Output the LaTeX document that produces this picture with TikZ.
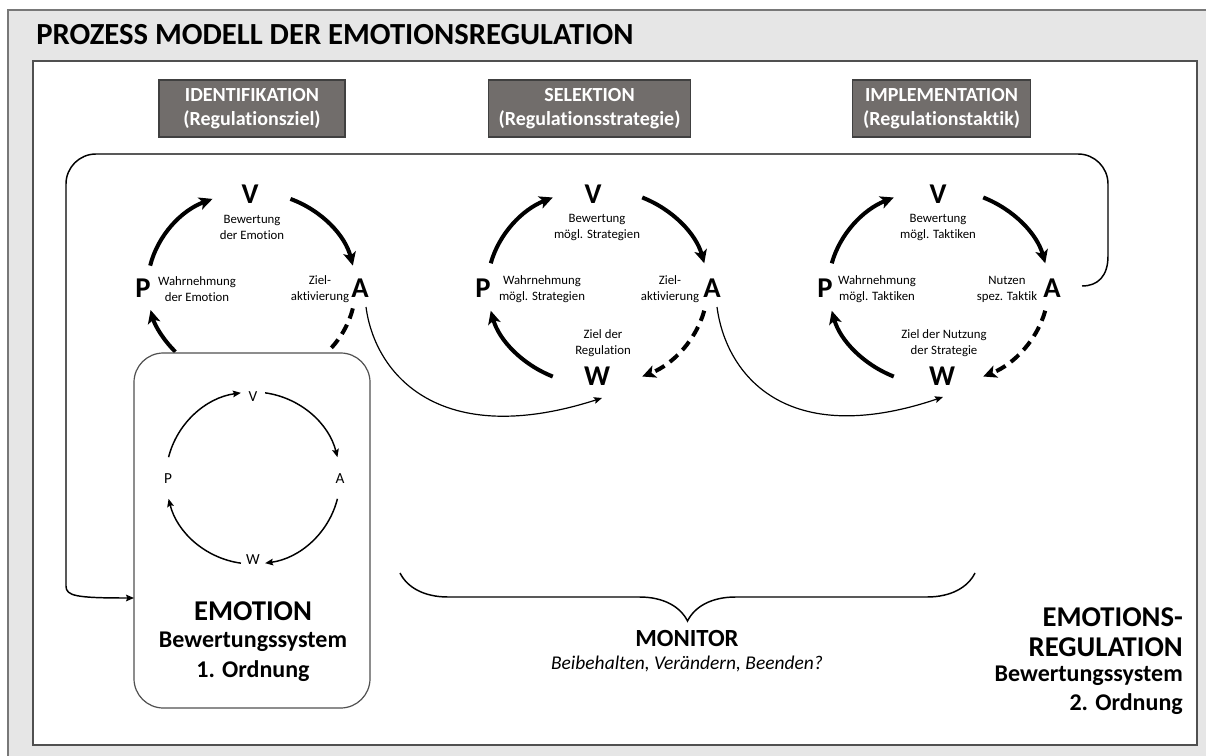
\documentclass[tikz,border=0pt]{standalone}
\usepackage{fontspec}
\setmainfont{Carlito}[Ligatures={NoCommon}]
\usetikzlibrary{arrows.meta,calc,decorations.pathreplacing}
\definecolor{bggray}{RGB}{230,230,230}
\definecolor{hdrfill}{RGB}{113,109,107}
\definecolor{hdrline}{RGB}{64,64,64}
\definecolor{framegray}{RGB}{120,120,120}
\definecolor{innerframe}{RGB}{80,80,80}
\begin{document}
\begin{tikzpicture}[x=0.75pt,y=0.75pt,
  hdr/.style={fill=hdrfill, draw=hdrline, line width=0.8pt, text=white,
    font=\bfseries\fontsize{15}{18.5}\selectfont, align=center,
    minimum height=42.75pt, inner xsep=4pt},
  big/.style={font=\bfseries\fontsize{21.5}{21.5}\selectfont, inner sep=0pt},
  small/.style={font=\fontsize{11.5}{12}\selectfont, inner sep=0pt},
  lbl/.style={font=\fontsize{9.6}{12}\selectfont, align=center, inner sep=0pt},
  cyc/.style={line width=3pt, -{Stealth[length=10pt,width=9.5pt,inset=2.5pt]}},
  cycdash/.style={cyc, dash pattern=on 8pt off 5pt},
  cycplain/.style={line width=3pt},
  thin/.style={line width=0.9pt, -{Stealth[length=6pt,width=5pt,inset=1pt]}},
  loopline/.style={line width=1.1pt, -{Stealth[length=6pt,width=5pt,inset=1pt]}},
  bigtxt/.style={font=\bfseries\fontsize{21.5}{21.5}\selectfont, inner sep=0pt},
  midtxt/.style={font=\bfseries\fontsize{18}{18}\selectfont, inner sep=0pt}
]
\useasboundingbox (0,0) rectangle (1206,-756);
\fill[white] (0,0) rectangle (1206,-756);
% frames
\draw[fill=bggray, draw=framegray, line width=1pt] (8,-10) rectangle (1225,-775);
\draw[fill=white, draw=innerframe, line width=1.1pt] (33,-61) rectangle (1197,-745);
% title
\node[anchor=west, inner sep=0pt, font=\bfseries\fontsize{23}{23}\selectfont] (title) at (36,-35) {PROZESS MODELL DER EMOTIONSREGULATION};
% headers
\node[hdr, minimum width=139.5pt] (hid) at (252,-108.5) {IDENTIFIKATION\\(Regulationsziel)};
\node[hdr, minimum width=152pt] (hsel) at (589.5,-108.5) {SELEKTION\\(Regulationsstrategie)};
\node[hdr, minimum width=133pt] (himp) at (941.5,-108.5) {IMPLEMENTATION\\(Regulationstaktik)};

% ---------- left cycle ----------
\coordinate (LC) at (251.5,-287);
\node[big] (LV) at (250,-194) {V};
\node[big] (LP) at (143,-288) {P};
\node[big] (LA) at (360,-288) {A};
\node[lbl] (LVl) at (252,-227) {Bewertung\\der Emotion};
\node[lbl] (LPl) at (197,-289) {Wahrnehmung\\der Emotion};
\node[lbl] (LAl) at (320,-289) {Ziel-\\aktivierung};
\coordinate (l1) at ($(LC)+(167:104 and 95)$);
\coordinate (l2) at ($(LC)+(68:104 and 95)$);
\coordinate (l3) at ($(LC)+(-13:104 and 95)$);
\coordinate (l4) at ($(LC)+(-137:104 and 95)$);
\draw[cyc] (l1) arc[start angle=167,end angle=112,x radius=104,y radius=95];
\draw[cyc] (l2) arc[start angle=68,end angle=13,x radius=104,y radius=95];
\draw[cycplain, dash pattern=on 8pt off 5pt] (l3) arc[start angle=-13,end angle=-43,x radius=104,y radius=95];
\draw[cyc] (l4) arc[start angle=-137,end angle=-166,x radius=104,y radius=95];

% ---------- emotion box ----------
\draw[draw=innerframe, line width=0.9pt, fill=white, rounded corners=22pt] (134,-353) rectangle (370,-708);
\coordinate (emo-w) at (134,-598);
\coordinate (EC) at (253,-478);
\node[small] (eV) at (253,-397) {V};
\node[small] (eP) at (168,-479) {P};
\node[small] (eA) at (340,-479) {A};
\node[small] (eW) at (253,-560) {W};
\coordinate (e1) at ($(EC)+(166:87 and 86)$);
\coordinate (e2) at ($(EC)+(82:87 and 86)$);
\coordinate (e3) at ($(EC)+(-14:87 and 86)$);
\coordinate (e4) at ($(EC)+(-98:87 and 86)$);
\draw[thin, line width=1.1pt] (e1) arc[start angle=166,end angle=98,x radius=87,y radius=86];
\draw[thin, line width=1.1pt] (e2) arc[start angle=82,end angle=14,x radius=87,y radius=86];
\draw[thin, line width=1.1pt] (e3) arc[start angle=-14,end angle=-82,x radius=87,y radius=86];
\draw[thin, line width=1.1pt] (e4) arc[start angle=-98,end angle=-166,x radius=87,y radius=86];
\node[bigtxt] (emo1) at (253,-611) {EMOTION};
\node[midtxt] (emo2) at (253,-642) {Bewertungssystem};
\node[midtxt] (emo3) at (253,-671) {1. Ordnung};

% ---------- middle cycle ----------
\coordinate (MC) at (597.5,-287);
\node[big] (MV) at (593,-194) {V};
\node[big] (MP) at (483,-288) {P};
\node[big] (MA) at (712,-288) {A};
\node[big] (MW) at (597,-376) {W};
\node[lbl] (MVl) at (597,-227) {Bewertung\\mögl. Strategien};
\node[lbl] (MPl) at (542,-289) {Wahrnehmung\\mögl. Strategien};
\node[lbl] (MAl) at (670,-289) {Ziel-\\aktivierung};
\node[lbl] (MWl) at (603,-343) {Ziel der\\Regulation};
\coordinate (m1) at ($(MC)+(166:110 and 98)$);
\coordinate (m2) at ($(MC)+(66:110 and 98)$);
\coordinate (m3) at ($(MC)+(-14:110 and 98)$);
\coordinate (m4) at ($(MC)+(-114:110 and 98)$);
\draw[cyc] (m1) arc[start angle=166,end angle=114,x radius=110,y radius=98];
\draw[cyc] (m2) arc[start angle=66,end angle=14,x radius=110,y radius=98];
\draw[cycdash] (m3) arc[start angle=-14,end angle=-66,x radius=110,y radius=98];
\draw[cyc] (m4) arc[start angle=-114,end angle=-166,x radius=110,y radius=98];

% ---------- right cycle ----------
\coordinate (RC) at (938.5,-287);
\node[big] (RV) at (938,-194) {V};
\node[big] (RP) at (825,-288) {P};
\node[big] (RA) at (1052,-288) {A};
\node[big] (RW) at (942,-376) {W};
\node[lbl] (RVl) at (938,-227) {Bewertung\\mögl. Taktiken};
\node[lbl] (RPl) at (877,-289) {Wahrnehmung\\mögl. Taktiken};
\node[lbl] (RAl) at (1007,-289) {Nutzen\\spez. Taktik};
\node[lbl] (RWl) at (944,-343) {Ziel der Nutzung\\der Strategie};
\coordinate (r1) at ($(RC)+(166:110 and 98)$);
\coordinate (r2) at ($(RC)+(66:110 and 98)$);
\coordinate (r3) at ($(RC)+(-14:110 and 98)$);
\coordinate (r4) at ($(RC)+(-114:110 and 98)$);
\draw[cyc] (r1) arc[start angle=166,end angle=114,x radius=110,y radius=98];
\draw[cyc] (r2) arc[start angle=66,end angle=14,x radius=110,y radius=98];
\draw[cycdash] (r3) arc[start angle=-14,end angle=-66,x radius=110,y radius=98];
\draw[cyc] (r4) arc[start angle=-114,end angle=-166,x radius=110,y radius=98];

% ---------- connectors between cycles ----------
\coordinate (la-out) at (366,-307);
\coordinate (mw-in) at (602,-398);
\draw[thin] (la-out) .. controls (375,-375) and (440,-450) .. (mw-in);
\coordinate (ma-out) at (717,-307);
\coordinate (rw-in) at (943,-397);
\draw[thin] (ma-out) .. controls (726,-375) and (786,-450) .. (rw-in);

% ---------- outer loop ----------
\coordinate (ra-out) at (1082,-286);
\draw[loopline] (ra-out) .. controls (1098,-286) and (1108,-276) .. (1108,-256)
  -- (1108,-184) arc[start angle=0,end angle=90,radius=30]
  -- (96,-154) arc[start angle=90,end angle=180,radius=30]
  -- (66,-586) .. controls (66,-596) and (76,-598) .. (emo-w);

% ---------- monitor ----------
\draw[line width=1.1pt, decorate, decoration={brace, mirror, amplitude=36pt}] (400,-573) -- (975,-573);
\node[font=\bfseries\fontsize{18.5}{18.5}\selectfont, inner sep=0pt] (mon) at (687,-638) {MONITOR};
\node[font=\itshape\fontsize{14.6}{14.6}\selectfont, inner sep=0pt] (mon2) at (687,-664) {Beibehalten, Verändern, Beenden?};

% ---------- emotionsregulation ----------
\node[bigtxt, anchor=east] (er1) at (1183,-617) {EMOTIONS-};
\node[bigtxt, anchor=east] (er2) at (1183,-647) {REGULATION};
\node[midtxt, anchor=east] (er3) at (1183,-676) {Bewertungssystem};
\node[midtxt, anchor=east] (er4) at (1183,-704) {2. Ordnung};
\end{tikzpicture}
\end{document}
